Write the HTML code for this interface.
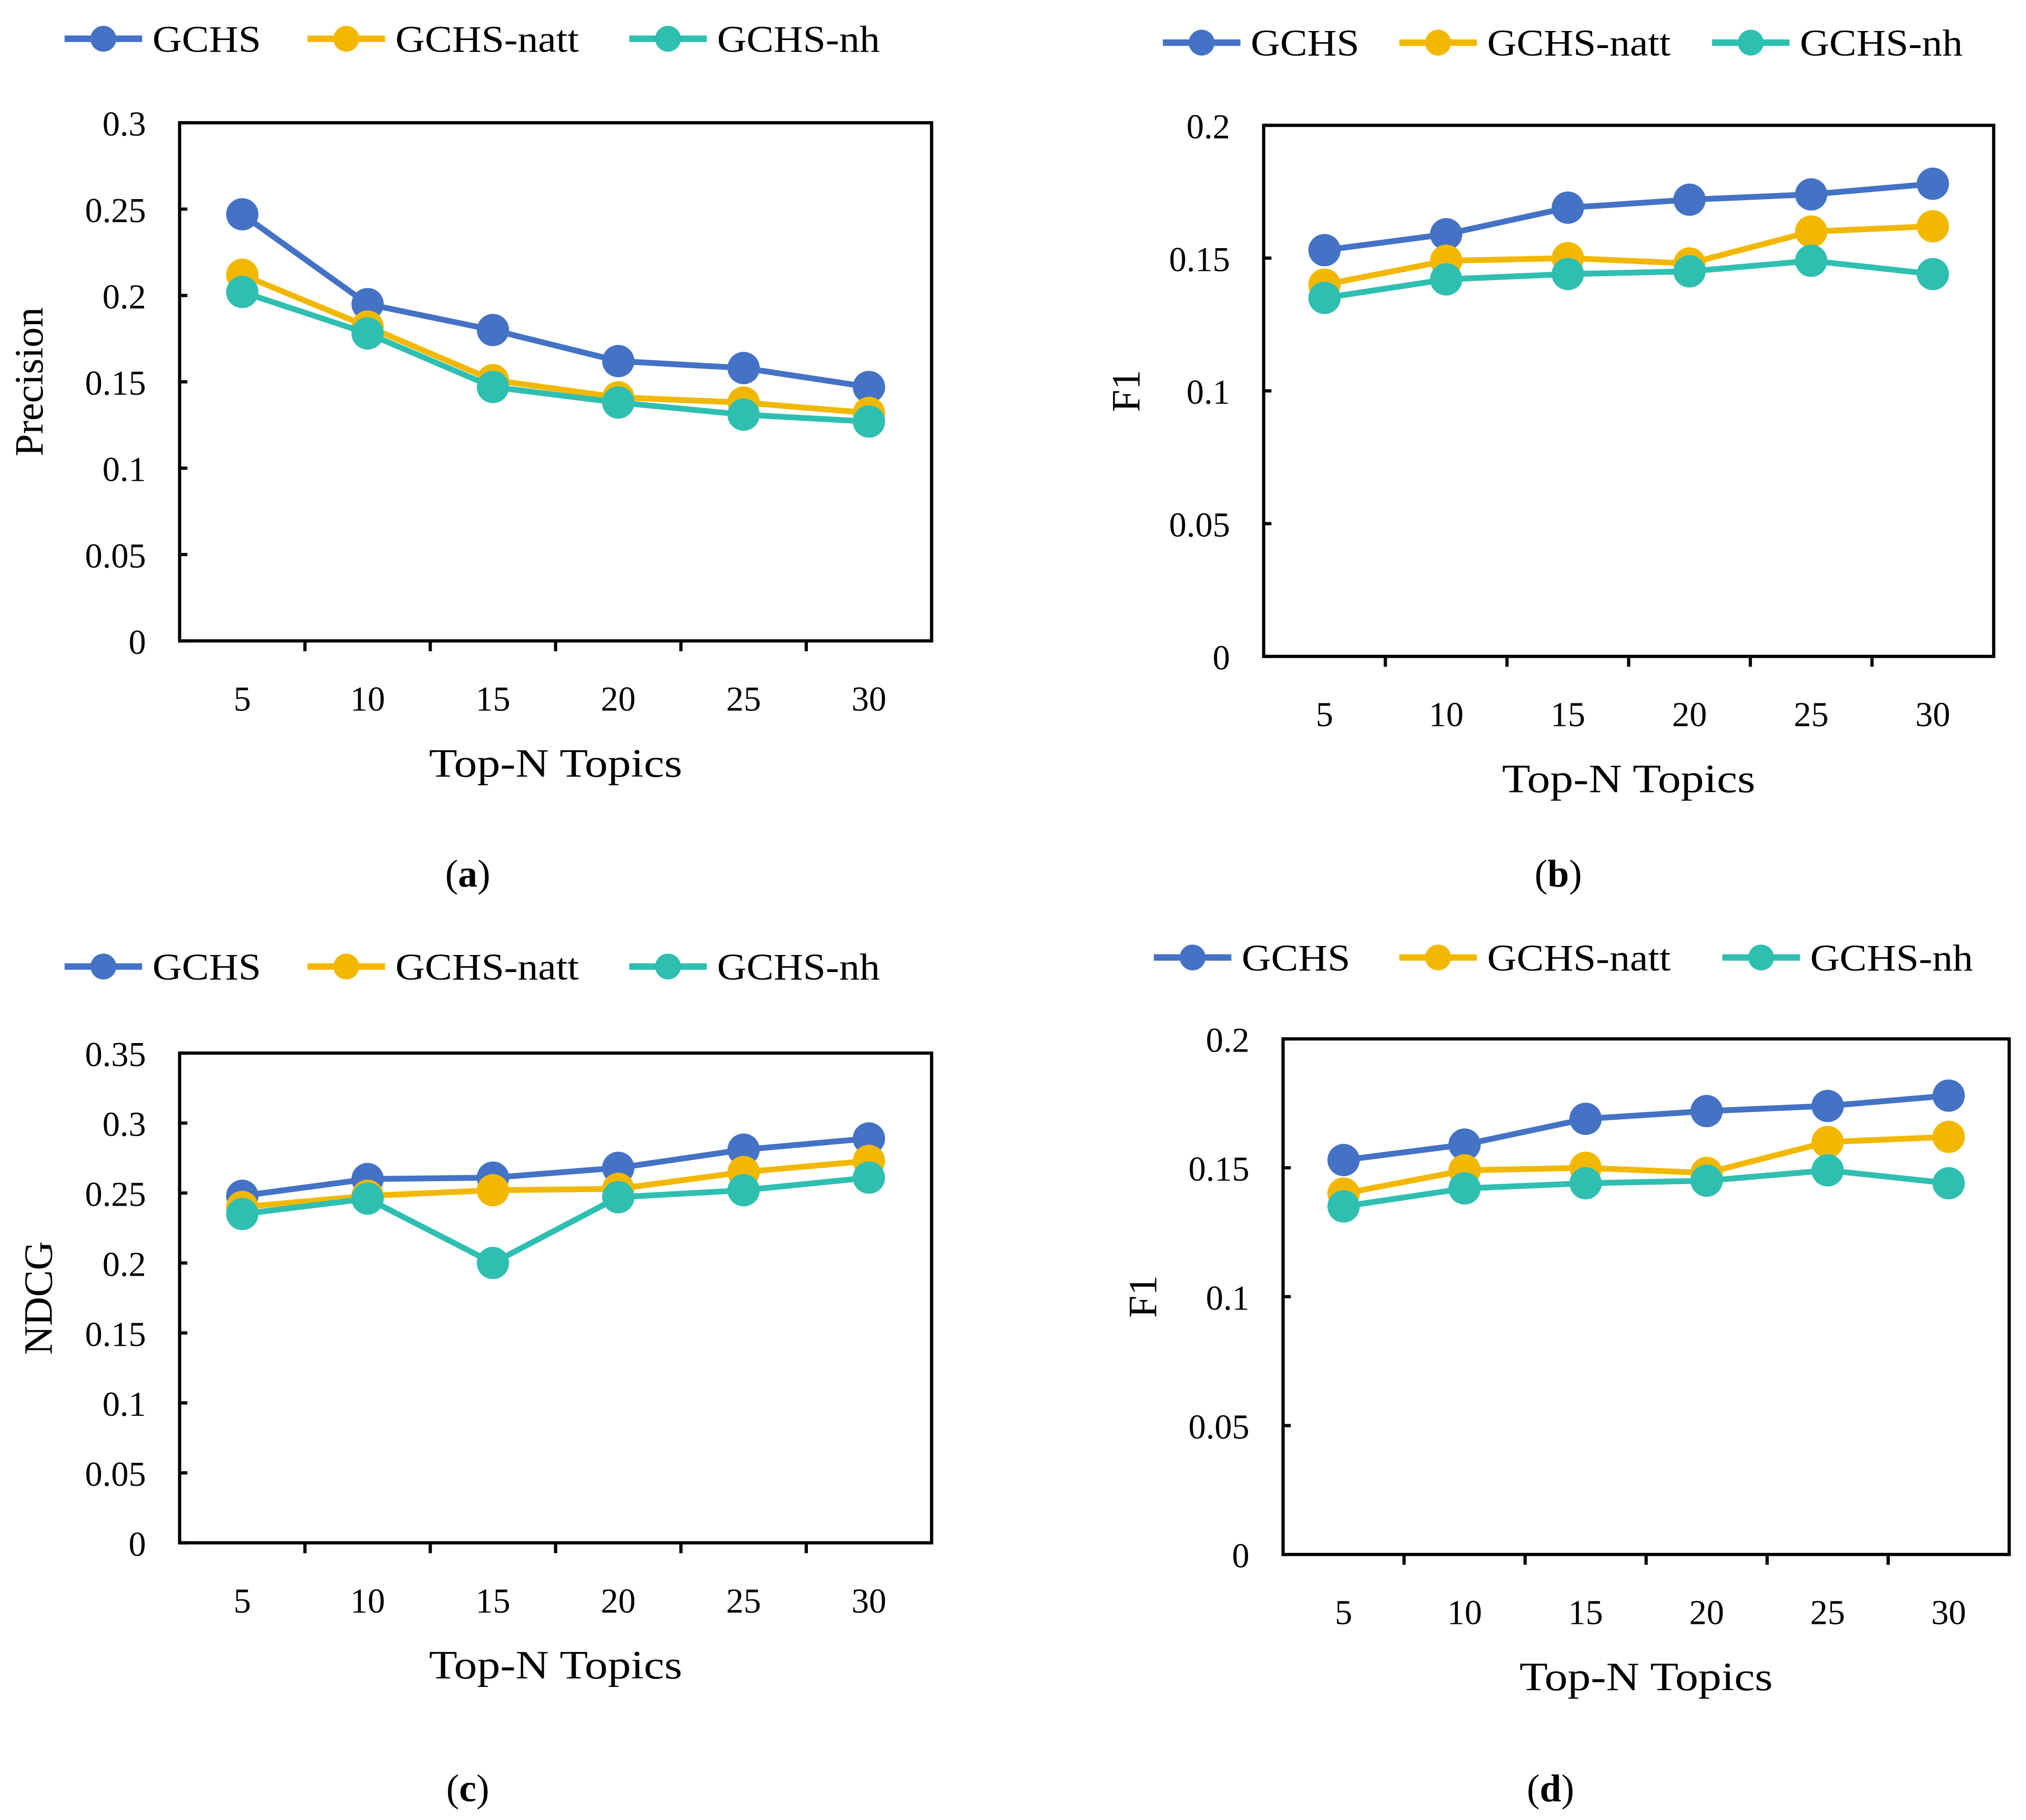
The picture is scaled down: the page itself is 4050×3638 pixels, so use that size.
<!DOCTYPE html>
<html><head><meta charset="utf-8"><style>
html,body{margin:0;padding:0;background:#fff;}
svg{display:block;}
text{font-family:"Liberation Serif",serif;fill:#000;}
</style></head><body>
<svg id="fig" width="4050" height="3638" viewBox="0 0 1568 1408.5" xmlns="http://www.w3.org/2000/svg"></svg>
<script>
const categories=[5,10,15,20,25,30];
const seriesNames=["GCHS","GCHS-natt","GCHS-nh"];
const precisionGCHS=[0.247,0.195,0.180,0.162,0.158,0.147];
const precisionNatt=[0.212,0.182,0.151,0.141,0.138,0.132];
const precisionNh=[0.202,0.178,0.147,0.138,0.131,0.127];
const f1GCHS=[0.153,0.159,0.169,0.172,0.174,0.178];
const f1Natt=[0.140,0.149,0.150,0.148,0.160,0.162];
const f1Nh=[0.135,0.142,0.144,0.145,0.149,0.144];
const ndcgGCHS=[0.248,0.260,0.261,0.268,0.281,0.289];
const ndcgNatt=[0.240,0.248,0.252,0.253,0.265,0.273];
const ndcgNh=[0.235,0.246,0.200,0.247,0.252,0.261];
const f1dGCHS=[0.153,0.159,0.169,0.172,0.174,0.178];
const f1dNatt=[0.140,0.149,0.150,0.148,0.160,0.162];
const f1dNh=[0.135,0.142,0.144,0.145,0.149,0.144];
const ticksA=["0","0.05","0.1","0.15","0.2","0.25","0.3"];
const ticksB=["0","0.05","0.1","0.15","0.2"];
const ticksC=["0","0.05","0.1","0.15","0.2","0.25","0.3","0.35"];

const colors=["#4472C4","#F2B800","#2FBFB1"];
const NS="http://www.w3.org/2000/svg";
const svg=document.getElementById('fig');
function mk(tag,attrs,parent,txt){const e=document.createElementNS(NS,tag);for(const k in attrs)e.setAttribute(k,attrs[k]);if(txt!==undefined)e.textContent=txt;(parent||svg).appendChild(e);return e;}

function panel(p){
  const g=mk('g',{});
  
  
  const ymax=+p.ticks[p.ticks.length-1];
  const n=categories.length, cw=(p.x1-p.x0)/n;
  const X=i=>p.x0+cw*(i+0.5);
  const Y=v=>p.y1-(v/ymax)*(p.y1-p.y0);
  const lg=mk('g',{},g);
  
  
  seriesNames.forEach((s,k)=>{
    const e=mk('g',{},lg);
    
    
    const lx=p.leg[k];
    mk('line',{x1:lx,x2:lx+60,y1:p.ly,y2:p.ly,stroke:colors[k],'stroke-width':5},e);
    mk('circle',{cx:lx+30,cy:p.ly,r:10,fill:colors[k]},e);
    mk('text',{x:lx+68,y:p.ly+10,'font-size':29,'font-family':'Liberation Sans, sans-serif',textLength:p.tl[k],lengthAdjust:'spacingAndGlyphs'},e,s);
  });
  const fr=mk('rect',{x:p.x0,y:p.y0,width:p.x1-p.x0,height:p.y1-p.y0,fill:'none',stroke:'#000','stroke-width':2.5},g);
  
  
  p.ticks.forEach(t=>{
    const y=Y(+t);
    mk('line',{x1:p.x0,x2:p.x0+6,y1:y,y2:y,stroke:'#000','stroke-width':2.5},g);
    const tl=mk('text',{x:p.x0-26,y:y+10,'font-size':27,'text-anchor':'end'},g,t);
    
    
  });
  for(let i=1;i<n;i++){const x=p.x0+cw*i;mk('line',{x1:x,x2:x,y1:p.y1,y2:p.y1+8,stroke:'#000','stroke-width':2.5},g);}
  categories.forEach((c,i)=>{
    const tl=mk('text',{x:X(i),y:p.y1+54,'font-size':27,'text-anchor':'middle'},g,c);
    
    
  });
  const xt=mk('text',{x:(p.x0+p.x1)/2,y:p.y1+105,'font-size':31,'text-anchor':'middle',textLength:196,lengthAdjust:'spacingAndGlyphs'},g,'Top-N Topics');
  
  
  const yt=mk('text',{x:0,y:0,'font-size':31,'text-anchor':'middle',transform:`translate(${p.ytx},${(p.y0+p.y1)/2}) rotate(-90)`},g,p.ytitle);
  
  
  const cap=mk('text',{x:p.capx,y:p.capy,'font-size':30,'text-anchor':'middle'},g);
  
  
  mk('tspan',{},cap,'(');mk('tspan',{'font-weight':'bold'},cap,p.id);mk('tspan',{},cap,')');
  p.series.forEach((arr,k)=>{
    const sg=mk('g',{},g);
    
    
    mk('polyline',{points:arr.map((v,i)=>X(i)+','+Y(v)).join(' '),fill:'none',stroke:colors[k],'stroke-width':4.5},sg);
    arr.forEach((v,i)=>{
      const c=mk('circle',{cx:X(i),cy:Y(v),r:12.5,fill:colors[k]},sg);
      
      
    });
  });
}
const tl=[84,142,126];
panel({id:'a',x0:139,x1:721,y0:95,y1:496,ticks:ticksA,ytitle:'Precision',ytx:33,capx:362,capy:686,ly:30,leg:[50,238,487],tl:tl,series:[precisionGCHS,precisionNatt,precisionNh]});
panel({id:'b',x0:978,x1:1543,y0:97,y1:508,ticks:ticksB,ytitle:'F1',ytx:882,capx:1206,capy:686,ly:33,leg:[900,1083,1325],tl:tl,series:[f1GCHS,f1Natt,f1Nh]});
panel({id:'c',x0:139,x1:721,y0:815,y1:1194,ticks:ticksC,ytitle:'NDCG',ytx:40,capx:362,capy:1394,ly:748,leg:[50,238,487],tl:tl,series:[ndcgGCHS,ndcgNatt,ndcgNh]});
panel({id:'d',x0:993,x1:1555,y0:804,y1:1203,ticks:ticksB,ytitle:'F1',ytx:895,capx:1200,capy:1394,ly:741,leg:[893,1083,1333],tl:tl,series:[f1dGCHS,f1dNatt,f1dNh]});
</script>
</body></html>
